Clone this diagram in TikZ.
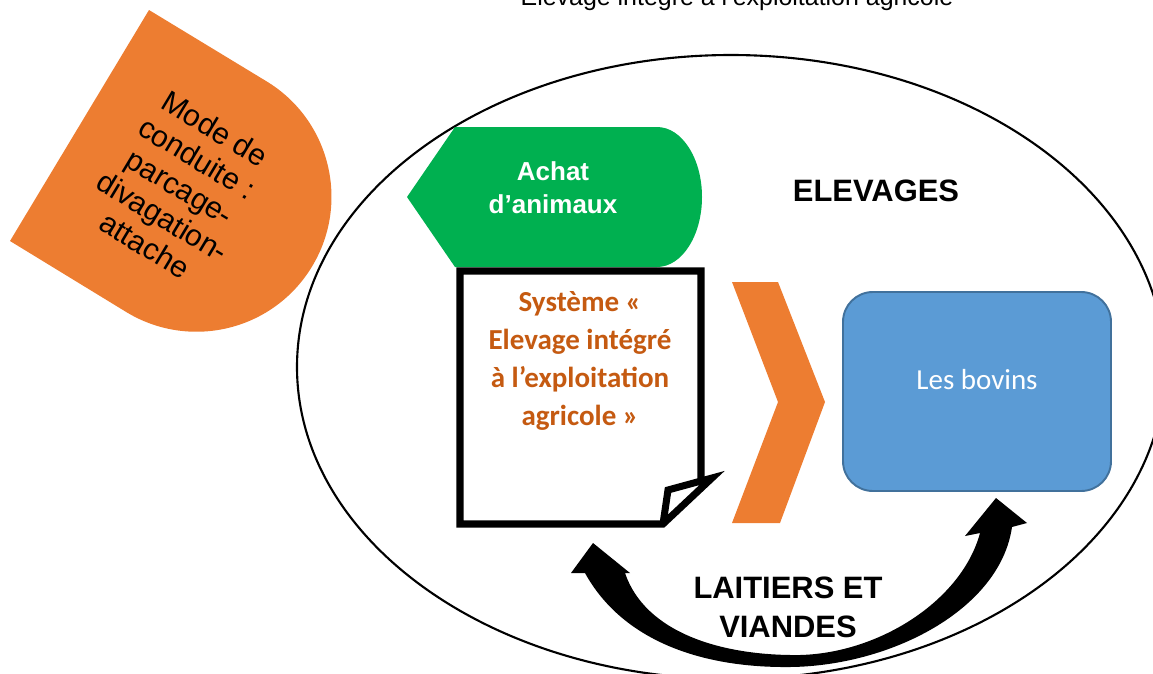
\documentclass[tikz,border=0pt]{standalone}
\usepackage{fontspec}
\setmainfont{Liberation Sans}
\newfontfamily\calibri{Carlito}

\definecolor{orangeA}{HTML}{ED7D31}
\definecolor{orangeT}{HTML}{C55A11}
\definecolor{greenA}{HTML}{00B050}
\definecolor{blueA}{HTML}{5B9BD5}
\definecolor{blueB}{HTML}{41719C}

\tikzset{
  big/.style={font=\bfseries\fontsize{17.6pt}{22.2pt}\selectfont, align=center},
  shapelabel/.style={align=center, inner sep=0pt}
}

\begin{document}
\begin{tikzpicture}[x=0.02cm,y=-0.02cm]
          \useasboundingbox (0,0) rectangle (1153,673);
          \node[anchor=base, font=\fontsize{14.2pt}{17pt}\selectfont] (titre) at (737,5) {Elevage intégré à l’exploitation agricole};
          % mode de conduite
          \fill[orangeA] (10,241) -- (149,10) -- (266,81) arc[start angle=-59, end angle=121, radius=135] -- cycle;
          \node[shapelabel, rotate=-31, font=\fontsize{17.1pt}{19.3pt}\selectfont] (mode) at (180,187) {Mode de\\conduite :\\parcage-\\divagation-\\attache};
          \draw[line width=1.2pt] (731,367) ellipse [x radius=434, y radius=312];
          % achat
          \fill[greenA] (407,197) -- (455,127) -- (657,127) arc[start angle=-90, end angle=90, x radius=45, y radius=70] -- (455,267) -- cycle;
          \node[shapelabel, text=white, font=\bfseries\fontsize{14.8pt}{18.8pt}\selectfont] (achat) at (553,188) {Achat\\d’animaux};
          % document
          \fill[white] (460,271) -- (701,271) -- (701,481) -- (663,524) -- (460,524) -- cycle;
          \draw[line width=4pt, line join=miter] (701,481) -- (701,271) -- (460,271) -- (460,524) -- (663,524) -- (712,478) -- (668,490) -- (663,524);
          \node[shapelabel, text=orangeT, font=\calibri\bfseries\fontsize{16.5pt}{21.6pt}\selectfont] (sys) at (580,361) {Système «\\Elevage intégré\\à l’exploitation\\agricole »};
          % chevron
          \fill[orangeA] (732,282) -- (778,282) -- (825,402) -- (780,523) -- (732,523) -- (778,402) -- cycle;
          \draw[blueB, fill=blueA, line width=1.1pt, rounded corners=17pt] (843,292) rectangle (1111,491);
          \node[anchor=base, text=white, font=\calibri\fontsize{16.5pt}{20pt}\selectfont] (bovins) at (977,389) {Les bovins};
          \node[big, anchor=base] (elev) at (876,201) {ELEVAGES};
          % fleche courbe
          \fill (593,543) -- (630,573) -- (625,573) .. controls (645,632) and (720,656) .. (800,655)
                .. controls (880,653) and (962,600) .. (980,533) -- (965,536) -- (996,498) -- (1027,523) -- (1012,527)
                .. controls (1000,610) and (890,666) .. (790,667) .. controls (700,668) and (622,640) .. (585,573) -- (571,573) -- cycle;
          \node[big] (lait) at (788,607) {LAITIERS ET\\VIANDES};
        \end{tikzpicture}
\end{document}
